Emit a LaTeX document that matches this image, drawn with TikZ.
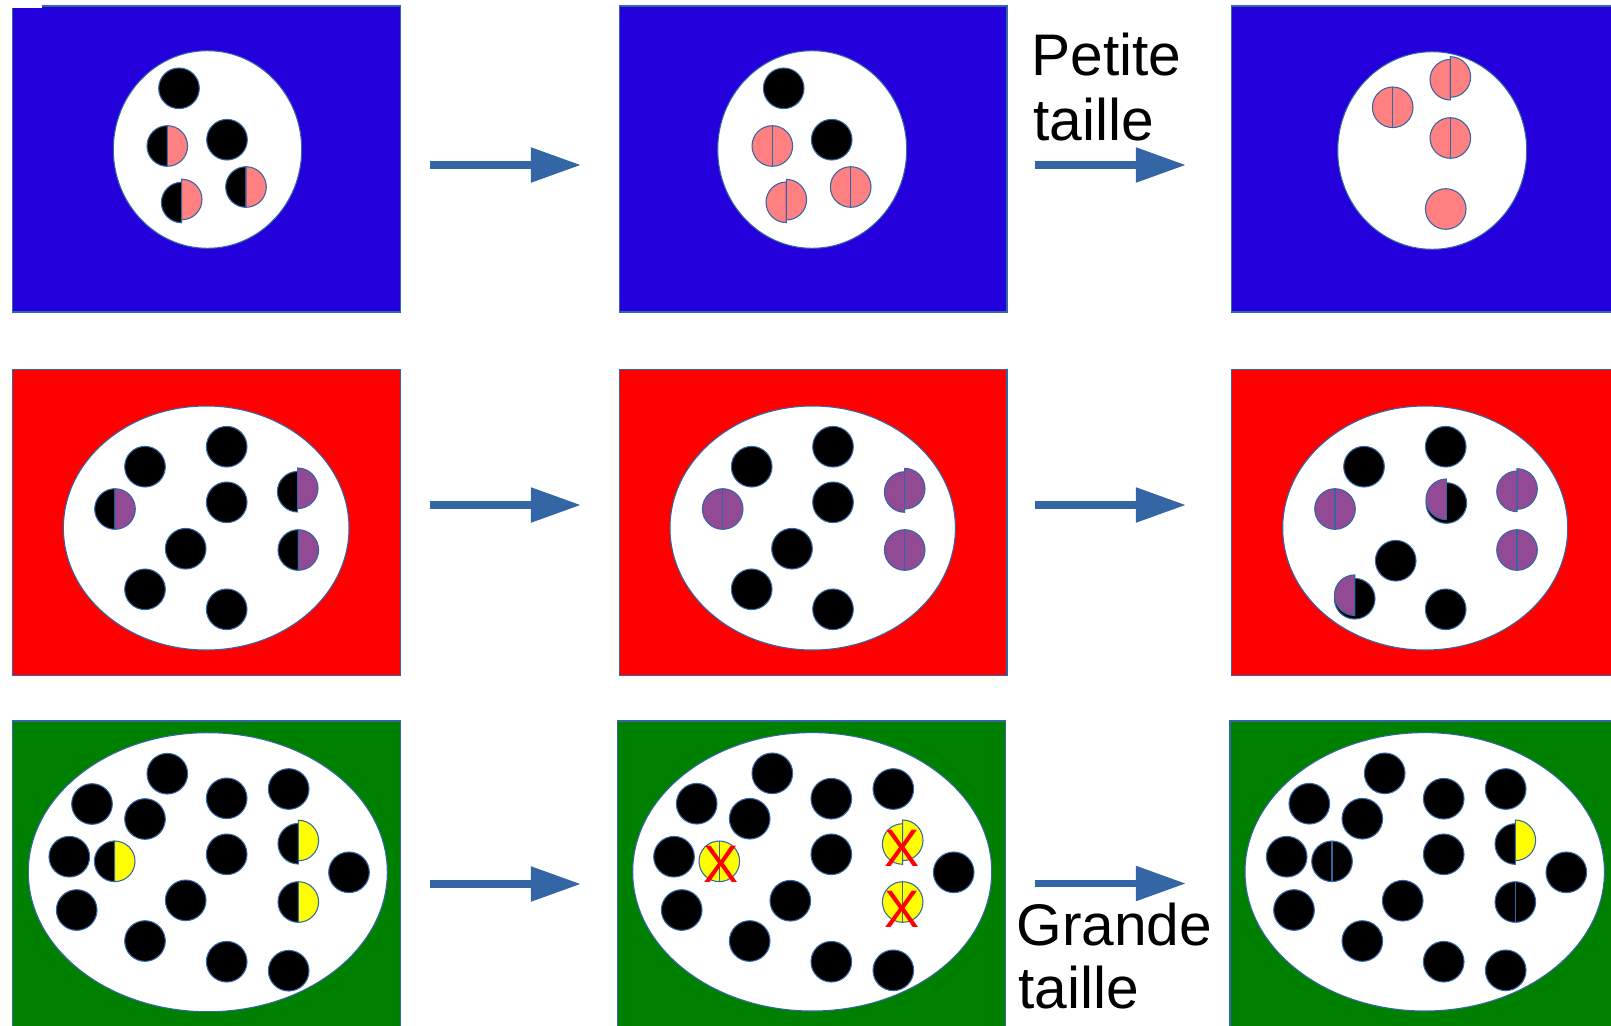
\documentclass[tikz,border=0pt]{standalone}
\usepackage{fontspec}
\setmainfont{Liberation Sans}
\usetikzlibrary{arrows.meta}
\definecolor{panelblue}{HTML}{2300DC}
\definecolor{edgeblue}{HTML}{3465A4}
\definecolor{pinkc}{HTML}{FF8080}
\definecolor{purplec}{HTML}{934A94}
\definecolor{greenc}{HTML}{008000}
\definecolor{redc}{HTML}{FF0000}
\definecolor{yellowc}{HTML}{FFFF00}
\newcommand\ball[3]{\path[disc,fill=#3] (#1,#2) circle[radius=20.3];}
\newcommand\lhalf[3]{\path[disc,fill=#3] (#1,#2) ++(0,-20.3) arc[start angle=-90,end angle=-270,radius=20.3] -- cycle;}
\newcommand\rhalf[3]{\path[disc,fill=#3] (#1,#2) ++(0,-20.3) arc[start angle=-90,end angle=90,radius=20.3] -- cycle;}
\newcommand\splitball[3]{\ball{#1}{#2}{#3}\draw[disc] (#1,#2) ++(0,-20.3) -- ++(0,40.6);}
\tikzset{
  disc/.style={draw=edgeblue, line width=0.6pt},
  panel/.style={draw=edgeblue, line width=0.7pt},
  hole/.style={fill=white, draw=edgeblue, line width=0.6pt},
  flow/.style={draw=edgeblue, line width=4.3pt, -{Triangle[length=28.6pt,width=19pt]}},
  lbl/.style={font=\fontsize{33.4}{38}\selectfont, inner sep=0pt, text=black},
  cross/.style={font=\fontsize{30}{30}\selectfont, inner sep=0pt, text=redc}
}
\begin{document}
\begin{tikzpicture}[x=0.02cm, y=-0.02cm]
\useasboundingbox (0,0) rectangle (1611,1025);
\clip (0,0) rectangle (1611,1025);
% ---------- row 1 (blue) ----------
\path[panel, fill=panelblue] (12.3,6) rectangle (400.7,312);
\fill[white] (12,4.5) rectangle (42,7.8);
\path[panel, fill=panelblue] (619.3,6) rectangle (1007,312);
\path[panel, fill=panelblue] (1231.3,6) rectangle (1640,312);
\path[hole] (207.5,149.5) ellipse[x radius=94.2, y radius=98.8];
\path[hole] (812.2,149.5) ellipse[x radius=94.5, y radius=98.8];
\path[hole] (1432.2,150.5) ellipse[x radius=94.5, y radius=98.8];
% panel 1
\ball{179}{88.3}{black}
\ball{227}{139.7}{black}
\lhalf{167.3}{146}{black}\rhalf{167.3}{146}{pinkc}
\lhalf{181.7}{202.5}{black}\rhalf{181.7}{199.5}{pinkc}
\lhalf{246}{187}{black}\rhalf{246}{187}{pinkc}
% panel 2
\ball{783.7}{88.3}{black}
\ball{831.7}{139.7}{black}
\splitball{772.3}{146}{pinkc}
\lhalf{786.3}{202.3}{pinkc}\rhalf{786.3}{199.7}{pinkc}
\splitball{850.7}{187}{pinkc}
% panel 3
\splitball{1392.7}{107.3}{pinkc}
\lhalf{1450.3}{79.7}{pinkc}\rhalf{1450.3}{77}{pinkc}
\splitball{1450.3}{138}{pinkc}
\ball{1445.7}{209}{pinkc}
% ---------- row 2 (red) ----------
\path[panel, fill=redc] (12.3,369.3) rectangle (400.7,675.3);
\path[panel, fill=redc] (619.3,369.3) rectangle (1007,675.3);
\path[panel, fill=redc] (1231.3,369.3) rectangle (1640,675.3);
\path[hole] (206.2,528) ellipse[x radius=142.8, y radius=122];
\path[hole] (812.7,528) ellipse[x radius=142.7, y radius=122];
\path[hole] (1425.2,528) ellipse[x radius=142.5, y radius=122];
% panel 4
\ball{145}{466.7}{black}
\ball{226.7}{446.7}{black}
\ball{226.7}{502.3}{black}
\ball{185.7}{548.7}{black}
\ball{145}{589.3}{black}
\ball{226.7}{609.3}{black}
\lhalf{115}{509}{black}\rhalf{115}{509}{purplec}
\lhalf{297.7}{491.7}{black}\rhalf{297.7}{488.3}{purplec}
\lhalf{298.3}{550}{black}\rhalf{298.3}{550}{purplec}
% panel 5
\ball{751.7}{466.7}{black}
\ball{833}{446.7}{black}
\ball{833}{502.3}{black}
\ball{792}{548.7}{black}
\ball{751.7}{589.3}{black}
\ball{833}{609.3}{black}
\splitball{722.7}{509}{purplec}
\lhalf{904.7}{492}{purplec}\rhalf{904.7}{488.7}{purplec}
\splitball{904.7}{550}{purplec}
% panel 6
\ball{1364}{466.7}{black}
\ball{1445.7}{446.7}{black}
\ball{1446.3}{503}{black}\lhalf{1446.3}{499.3}{purplec}
\ball{1395.7}{560.7}{black}
\ball{1354.7}{598.7}{black}\lhalf{1354.7}{595.2}{purplec}
\ball{1445.7}{609.3}{black}
\splitball{1335}{509}{purplec}
\lhalf{1517}{491.3}{purplec}\rhalf{1517}{489}{purplec}
\splitball{1517}{550}{purplec}
% ---------- row 3 (green) ----------
\path[panel, fill=greenc] (12.3,721) rectangle (400.7,1040);
\path[panel, fill=greenc] (617.3,721) rectangle (1005.3,1040);
\path[panel, fill=greenc] (1230,721) rectangle (1640,1040);
\path[hole] (207.8,872.2) ellipse[x radius=179.5, y radius=139.5];
\path[hole] (812.2,871.8) ellipse[x radius=179.5, y radius=139.2];
\path[hole] (1424.7,871.8) ellipse[x radius=179.7, y radius=139.2];
% panel 7
\ball{167.3}{773.7}{black}
\ball{92}{804}{black}
\ball{145}{819}{black}
\ball{226.7}{798.3}{black}
\ball{288.7}{789}{black}
\ball{69.3}{856.7}{black}
\ball{226.7}{854.3}{black}
\ball{349}{872.3}{black}
\ball{76.7}{910}{black}
\ball{185.7}{900.3}{black}
\ball{145}{941}{black}
\ball{226.7}{961.7}{black}
\ball{288.7}{970.7}{black}
\lhalf{114.7}{861.3}{black}\rhalf{114.7}{861.3}{yellowc}
\lhalf{298.3}{843.7}{black}\rhalf{298.3}{840.5}{yellowc}
\lhalf{298.3}{902}{black}\rhalf{298.3}{902}{yellowc}
% panel 8
\ball{772.3}{773.3}{black}
\ball{696.7}{803.7}{black}
\ball{749.7}{818.7}{black}
\ball{831.3}{798.7}{black}
\ball{893.3}{789}{black}
\ball{674}{856.7}{black}
\ball{831.3}{854.3}{black}
\ball{953.7}{872.3}{black}
\ball{681.7}{910}{black}
\ball{790.3}{900.7}{black}
\ball{749.7}{941}{black}
\ball{831.3}{961.7}{black}
\ball{893.3}{970.3}{black}
\splitball{719.3}{861.3}{yellowc}
\lhalf{902.7}{844}{yellowc}\rhalf{902.7}{840.3}{yellowc}
\splitball{902.7}{902}{yellowc}
\node[cross] (x1) at (720.8,864.3) {X};
\node[cross] (x2) at (902.2,848.3) {X};
\node[cross] (x3) at (902.2,909) {X};
% panel 9
\ball{1384.7}{773.3}{black}
\ball{1309.3}{803.7}{black}
\ball{1362.3}{818.7}{black}
\ball{1443.7}{798.7}{black}
\ball{1505.7}{789}{black}
\ball{1286.7}{856.7}{black}
\ball{1443.7}{854.3}{black}
\ball{1566.3}{872.3}{black}
\ball{1294}{910}{black}
\ball{1402.7}{900.7}{black}
\ball{1362.3}{941}{black}
\ball{1443.7}{961.7}{black}
\ball{1505.7}{970.3}{black}
\splitball{1332}{861.3}{black}
\lhalf{1515.3}{844}{black}\rhalf{1515.3}{840.3}{yellowc}
\splitball{1515.3}{902}{black}
% ---------- arrows ----------
\coordinate (a1s) at (430,165);  \coordinate (a1e) at (581,165);
\coordinate (a2s) at (1035,165); \coordinate (a2e) at (1186,165);
\coordinate (a3s) at (430,505);  \coordinate (a3e) at (581,505);
\coordinate (a4s) at (1035,505); \coordinate (a4e) at (1186,505);
\coordinate (a5s) at (430,884);  \coordinate (a5e) at (581,884);
\coordinate (a6s) at (1035,883.5); \coordinate (a6e) at (1186,883.5);
\draw[flow] (a1s) -- (a1e);
\draw[flow] (a2s) -- (a2e);
\draw[flow] (a3s) -- (a3e);
\draw[flow] (a4s) -- (a4e);
\draw[flow] (a5s) -- (a5e);
\draw[flow] (a6s) -- (a6e);
% ---------- labels ----------
\node[lbl, anchor=base west] (pt1) at (1031,75) {Petite};
\node[lbl, anchor=base west] (pt2) at (1033,140) {taille};
\node[lbl, anchor=base west] (gt1) at (1016,945) {Grande};
\node[lbl, anchor=base west] (gt2) at (1018,1008.3) {taille};
\end{tikzpicture}
\end{document}
